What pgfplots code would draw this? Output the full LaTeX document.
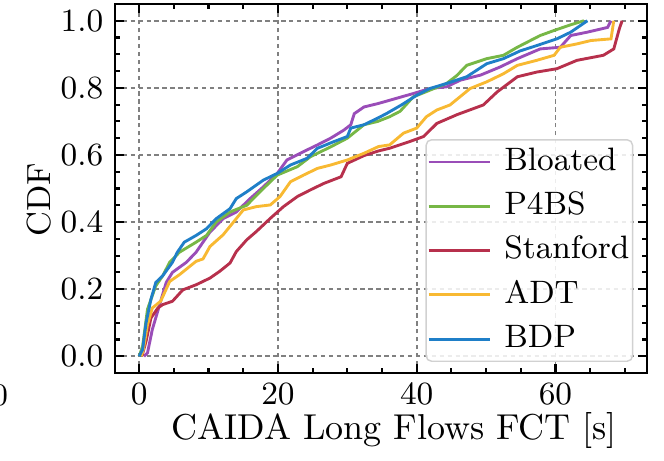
\documentclass[border=0pt]{standalone}
\usepackage{pgfplots}
\pgfplotsset{compat=1.18}
\usetikzlibrary{calc}
\definecolor{cBloated}{HTML}{9A4DB8}
\definecolor{cP4BS}{HTML}{77B746}
\definecolor{cStanford}{HTML}{B7304C}
\definecolor{cADT}{HTML}{F8B932}
\definecolor{cBDP}{HTML}{1F7FC8}
\pgfplotsset{my legend line/.style={legend image code/.code={\path (0pt,0pt) -- (17pt,0pt); \draw[#1] (3.5pt,0pt) -- (17pt,0pt);}}}
\begin{document}
\begin{tikzpicture}
\begin{axis}[
  scale only axis,
  width=147.8pt, height=102.5pt,
  xmin=-3.5, xmax=73.2, ymin=-0.05, ymax=1.05,
  xtick={0,20,40,60}, ytick={0,0.2,0.4,0.6,0.8,1.0},
  minor xtick={5,10,15,25,30,35,45,50,55,65,70},
  minor ytick={0.05,0.1,0.15,0.25,0.3,0.35,0.45,0.5,0.55,0.65,0.7,0.75,0.85,0.9,0.95},
  yticklabel style={/pgf/number format/fixed,/pgf/number format/fixed zerofill,/pgf/number format/precision=1},
  tick label style={font=\fontsize{8.7}{10}\selectfont},
  xticklabel style={yshift=0.5pt},
  yticklabel style={xshift=0.3pt},
  tick align=inside,
  major tick length=2.6pt, minor tick length=1.4pt,
  every tick/.style={black, line width=0.6pt},
  axis line style={line width=0.7pt},
  grid=major,
  major grid style={black!50, line width=0.5pt, dash pattern=on 1.2pt off 1pt},
  xlabel={CAIDA Long Flows FCT [s]},
  ylabel={CDF},
  xlabel style={font=\fontsize{10}{12}\selectfont, at={(axis description cs:0.525,-0.155)}, anchor=center},
  ylabel style={font=\fontsize{9.3}{11}\selectfont, at={(axis description cs:-0.143,0.47)}, anchor=center},
  my legend line,
  legend style={at={(axis description cs:0.974,0.03)}, anchor=south east,
    draw=black!18, rounded corners=1.5pt, fill=white, fill opacity=0.85, text opacity=1,
    font=\fontsize{9}{10}\selectfont, inner xsep=0.3pt, inner ysep=2pt, row sep=4pt, column sep=0pt,
    nodes={inner xsep=0.6pt, inner ysep=0pt, text height=6.5pt, text depth=1.8pt},
    cells={anchor=west}},
  legend cell align=left,
  every axis plot/.append style={line width=0.8pt},
]
\addplot[cBloated] coordinates {(0.7,0)(1.2,0.01)(1.9,0.08)(2.9,0.15)(3.9,0.22)(4.8,0.25)(6.8,0.28)(8.2,0.31)(10.2,0.37)(12.1,0.41)(14,0.43)(16,0.47)(17.9,0.505)(19.9,0.545)(21.3,0.585)(23.7,0.61)(25.7,0.63)(27.6,0.65)(29.5,0.674)(30.5,0.69)(31,0.723)(32.4,0.743)(34.4,0.753)(36.1,0.763)(39.5,0.783)(41.9,0.798)(44.3,0.803)(46.3,0.823)(49.2,0.838)(52,0.862)(54.5,0.887)(57.8,0.916)(60.7,0.921)(62.2,0.956)(64.6,0.966)(67.5,0.98)(68,1.0)};
\addlegendentry{\hspace{3pt}Bloated}
\addplot[cP4BS] coordinates {(0,0)(0.5,0.03)(1.2,0.14)(2.4,0.21)(3.4,0.24)(4.4,0.28)(5.8,0.31)(8.2,0.34)(9.7,0.36)(11.1,0.40)(13.1,0.43)(15.5,0.45)(17.9,0.50)(19.9,0.54)(22.8,0.565)(24.7,0.595)(27.6,0.624)(30,0.65)(32.4,0.69)(34.4,0.70)(36.1,0.714)(37.6,0.73)(39.5,0.773)(41.9,0.793)(44.3,0.813)(45.8,0.837)(47.2,0.867)(50.1,0.887)(52.5,0.897)(54.5,0.921)(57.8,0.956)(59.8,0.971)(62.2,0.988)(64.1,1.0)};
\addlegendentry{\hspace{3pt}P4BS}
\addplot[cStanford] coordinates {(0.4,0)(1.0,0.045)(1.7,0.114)(2.7,0.144)(3.4,0.154)(4.8,0.164)(6.3,0.198)(8.2,0.213)(10.2,0.233)(11.6,0.253)(13.1,0.278)(14,0.312)(15.5,0.347)(16.9,0.372)(18.9,0.411)(20.8,0.446)(22.8,0.476)(24.7,0.496)(26.6,0.515)(29.1,0.535)(30,0.575)(32.4,0.598)(34.5,0.612)(36.1,0.62)(39,0.64)(41,0.655)(42.9,0.694)(45.8,0.72)(49.6,0.749)(51.6,0.788)(54.5,0.833)(57.3,0.847)(60.2,0.857)(63.1,0.882)(66.9,0.897)(68.4,0.916)(69.2,0.976)(69.6,1.0)};
\addlegendentry{\hspace{3pt}Stanford}
\addplot[cADT] coordinates {(0.3,0)(0.6,0.02)(1.2,0.094)(1.9,0.144)(3.1,0.164)(4.4,0.223)(5.8,0.243)(8.2,0.283)(9.2,0.29)(10.2,0.327)(12.1,0.362)(13.6,0.40)(15,0.436)(16.9,0.446)(18.9,0.451)(20.3,0.476)(21.8,0.52)(23.7,0.54)(25.7,0.56)(27.6,0.57)(30,0.585)(32.4,0.605)(34.5,0.625)(36.1,0.63)(38.1,0.665)(40,0.68)(41.4,0.714)(42.9,0.734)(44.8,0.749)(47.7,0.798)(50.1,0.818)(52.5,0.842)(54.5,0.867)(57.3,0.882)(59.8,0.897)(60.7,0.921)(63.1,0.931)(65.1,0.941)(68,0.946)(68.4,1.0)};
\addlegendentry{\hspace{3pt}ADT}
\addplot[cBDP] coordinates {(0,0)(0.5,0.02)(1.0,0.10)(1.7,0.17)(2.4,0.22)(3.4,0.24)(4.8,0.28)(5.5,0.31)(6.5,0.34)(8.2,0.36)(9.7,0.38)(11.1,0.41)(13.1,0.44)(14.0,0.47)(15.5,0.49)(17.9,0.525)(19.9,0.545)(21.8,0.57)(24.2,0.59)(25.7,0.62)(28.1,0.64)(30,0.655)(30.5,0.68)(32.4,0.69)(34.4,0.71)(35.7,0.724)(37.8,0.749)(40,0.778)(41.9,0.798)(44.3,0.813)(47.2,0.833)(50.1,0.872)(52.5,0.887)(54.9,0.91)(57.3,0.926)(60.2,0.946)(62.2,0.966)(64.6,1.0)};
\addlegendentry{\hspace{3pt}BDP}
\end{axis}
\pgfresetboundingbox
\useasboundingbox ($(current axis.south west)+(-31.9pt,-24.4pt)$) rectangle ($(current axis.north east)+(4.7pt,1.1pt)$);
\node[font=\fontsize{8.7}{10}\selectfont, inner sep=0pt] at ($(current axis.south west)+(-31.9pt,-6.2pt)$) {0};
\end{tikzpicture}
\end{document}
